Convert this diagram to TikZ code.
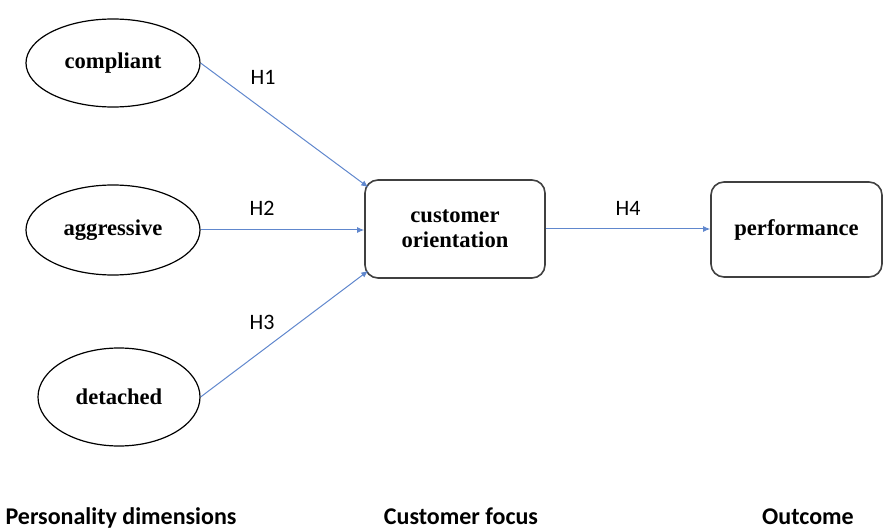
\documentclass[tikz,border=0pt]{standalone}
\usepackage{fontspec}
\setmainfont{Liberation Serif}
\newfontfamily\carlito{Carlito}
\usetikzlibrary{arrows.meta,shapes.geometric,calc}
\definecolor{linkblue}{RGB}{68,114,196}
\begin{document}
\begin{tikzpicture}[x=0.5pt,y=-0.5pt,
  trait/.style={draw=black,line width=0.6pt,ellipse,inner sep=0pt,font=\fontsize{11.3}{13}\selectfont\bfseries},
  stagebox/.style={draw=black!75,line width=0.8pt,rounded corners=6.5pt,inner sep=0pt,align=center,font=\fontsize{11.3}{12.5}\selectfont\bfseries},
  link/.style={draw=linkblue!85,line width=0.5pt,-{Latex[length=3.5pt,width=3pt]}},
  hyp/.style={font=\carlito\fontsize{11}{13}\selectfont},
  stage/.style={font=\carlito\fontsize{12}{13}\selectfont\bfseries,anchor=base,inner sep=0pt}]
\useasboundingbox (0,0) rectangle (883,529);
\node[trait,minimum width=87pt,minimum height=44pt] (comp) at (113,63) {compliant};
\node[trait,minimum width=87pt,minimum height=45pt] (aggr) at (113,230) {aggressive};
\node[trait,minimum width=81pt,minimum height=49pt] (deta) at (119,397) {detached};
\node[stagebox,minimum width=90pt,minimum height=49pt] (co) at (455,229) {customer\\orientation};
\node[stagebox,minimum width=85.5pt,minimum height=47.5pt] (perf) at (796.5,229.5) {performance};
\coordinate (coin1) at ($(co.north west)+(4,8)$);
\coordinate (coin3) at ($(co.south west)+(4,-8)$);
\draw[link] (comp.east) -- (coin1);
\draw[link] (aggr.east) -- (aggr.east -| co.west);
\draw[link] (deta.east) -- (coin3);
\draw[link] (co.east) -- (co.east -| perf.west);
\node[hyp] (h1) at (263,77) {H1};
\node[hyp] (h2) at (262,208) {H2};
\node[hyp] (h3) at (262,322) {H3};
\node[hyp] (h4) at (628,208) {H4};
\node[stage] (s1) at (121,524) {Personality dimensions};
\node[stage] (s2) at (461,524) {Customer focus};
\node[stage] (s3) at (808,524) {Outcome};
\end{tikzpicture}
\end{document}
